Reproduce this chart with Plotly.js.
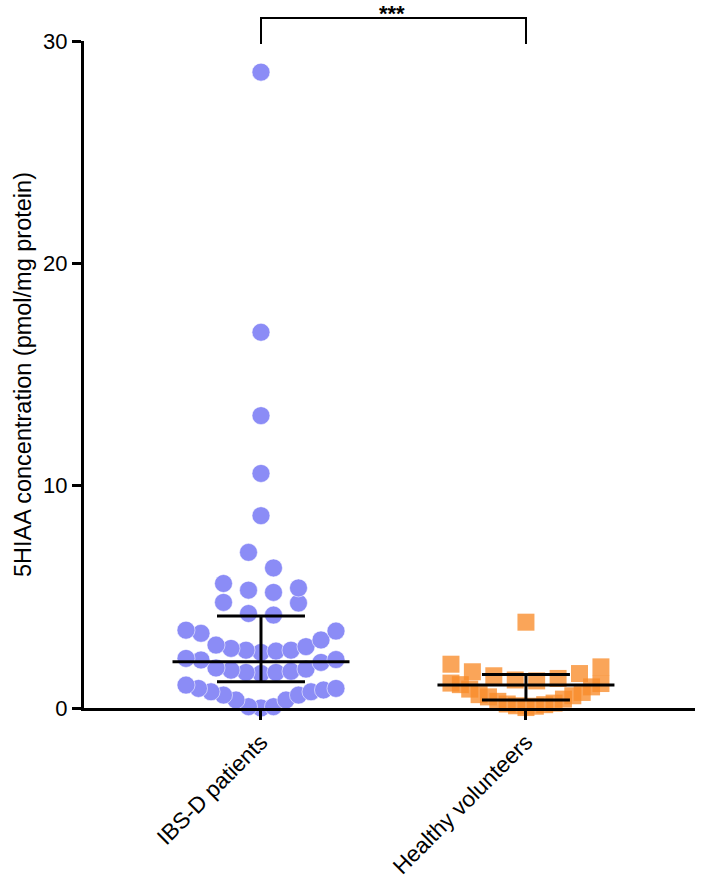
<!DOCTYPE html>
<html>
<head>
<meta charset="utf-8">
<script src="https://cdn.plot.ly/plotly-3.0.1.min.js"></script>
<style>html,body{margin:0;padding:0;background:#fff;}#chart{width:709px;height:878px;}</style>
</head>
<body>
<div id="chart"></div>
<script>
// ---- data ----
var categories = ["IBS-D patients", "Healthy volunteers"];
var ibsValues = [28.6, 16.9, 13.15, 10.55, 8.65, 7.0, 6.3,
  5.6, 5.4, 5.3, 5.2,
  4.75, 4.72, 4.25, 4.18,
  3.5, 3.36, 2.83, 2.68, 2.6, 2.5, 2.56, 2.6, 2.76, 3.06, 3.46,
  2.23, 2.16, 1.8, 1.7, 1.6, 1.55, 1.6, 1.65, 1.75, 2.05, 2.18,
  1.03, 0.88, 0.73, 0.58, 0.36, 0.06, 0.0, 0.06, 0.36, 0.58, 0.73, 0.81, 0.88];
var healthyValues = [3.86,
  1.97, 1.85, 1.63, 1.55, 1.45, 1.33, 1.26, 1.22,
  1.12, 1.1, 1.05, 0.95, 0.85, 0.7, 0.6, 0.55, 0.5, 0.4, 0.3, 0.22, 0.15, 0.08, 0.02, 0.1, 0.18];
var medians = [2.08, 1.03];
var lowerQuartiles = [1.18, 0.36];
var upperQuartiles = [4.14, 1.51];
var yTicks = [0, 10, 20, 30];
var significance = "***";

// ---- beeswarm layout computed from the values ----
var PX_PER_X = 265;      // pixels per category unit
var BIN = 1.2;           // row height in data units
function swarm(vals, center) {
  var bins = {};
  vals.forEach(function (v) {
    var b = Math.floor(v / BIN);
    (bins[b] = bins[b] || []).push(v);
  });
  var xs = [], ys = [];
  Object.keys(bins).forEach(function (k) {
    var row = bins[k].slice().sort(function (a, b) { return a - b; });
    var n = row.length;
    var sp = n > 1 ? Math.min(25, 150 / (n - 1)) : 0;
    row.forEach(function (v, i) {
      var slot;
      if (n % 2 === 1) {
        slot = i === 0 ? 0 : (i % 2 === 1 ? (i + 1) / 2 : -i / 2);
      } else {
        var k2 = Math.floor(i / 2);
        slot = (i % 2 === 0 ? 1 : -1) * (k2 + 0.5);
      }
      xs.push(center + slot * sp / PX_PER_X);
      ys.push(v);
    });
  });
  return {x: xs, y: ys};
}
var s1 = swarm(ibsValues, 0);
var s2 = swarm(healthyValues, 1);

var traces = [
  {x: s1.x, y: s1.y, type: 'scatter', mode: 'markers', cliponaxis: false, hoverinfo: 'y',
   marker: {symbol: 'circle', size: 18, color: 'rgb(139,140,246)', line: {width: 0.8, color: 'rgba(255,255,255,0.7)'}}},
  {x: s2.x, y: s2.y, type: 'scatter', mode: 'markers', cliponaxis: false, hoverinfo: 'y',
   marker: {symbol: 'square', size: 17, color: 'rgba(248,140,42,0.78)', line: {width: 0}}}
];
var HALF_MED = 0.334, HALF_CAP = 0.166;
[0, 1].forEach(function (i) {
  var xm = [i - HALF_MED, i + HALF_MED, null, i - HALF_CAP, i + HALF_CAP, null, i - HALF_CAP, i + HALF_CAP, null, i, i];
  var ym = [medians[i], medians[i], null, upperQuartiles[i], upperQuartiles[i], null, lowerQuartiles[i], lowerQuartiles[i], null, lowerQuartiles[i], upperQuartiles[i]];
  traces.push({x: xm, y: ym, type: 'scatter', mode: 'lines', hoverinfo: 'skip',
    line: {color: 'black', width: 3}});
});

var font = "Liberation Sans, Arial, Helvetica, sans-serif";
var layout = {
  width: 709, height: 878,
  margin: {l: 84, r: 14, t: 41, b: 170},
  paper_bgcolor: 'white', plot_bgcolor: 'white',
  showlegend: false,
  font: {family: font, color: 'black'},
  xaxis: {
    range: [-0.668, 1.638], showgrid: false, zeroline: false,
    showline: true, linewidth: 3, linecolor: 'black',
    ticks: 'outside', ticklen: 9, tickwidth: 3, tickcolor: 'black',
    tickvals: [0, 1], ticktext: categories, tickangle: -45,
    tickfont: {size: 22.5, family: font}
  },
  yaxis: {
    range: [0, 30], showgrid: false, zeroline: false,
    showline: true, linewidth: 3, linecolor: 'black',
    ticks: 'outside', ticklen: 9, tickwidth: 3, tickcolor: 'black',
    tickvals: yTicks, tickfont: {size: 22, family: font},
    title: {text: "5HIAA concentration (pmol/mg protein)", font: {size: 23.5, family: font}, standoff: 5}
  },
  shapes: [{
    type: 'path', xref: 'paper', yref: 'paper',
    path: 'M 0.2897 0.9955 L 0.2897 1.0345 L 0.7234 1.0345 L 0.7234 0.9955',
    line: {color: 'black', width: 2}
  }],
  annotations: [{
    xref: 'paper', yref: 'paper', x: 0.504, y: 1.041, yanchor: 'middle', text: '<b>' + significance + '</b>',
    showarrow: false, font: {size: 22, family: font}
  }]
};
Plotly.newPlot('chart', traces, layout, {displayModeBar: false, staticPlot: true});
</script>
</body>
</html>
